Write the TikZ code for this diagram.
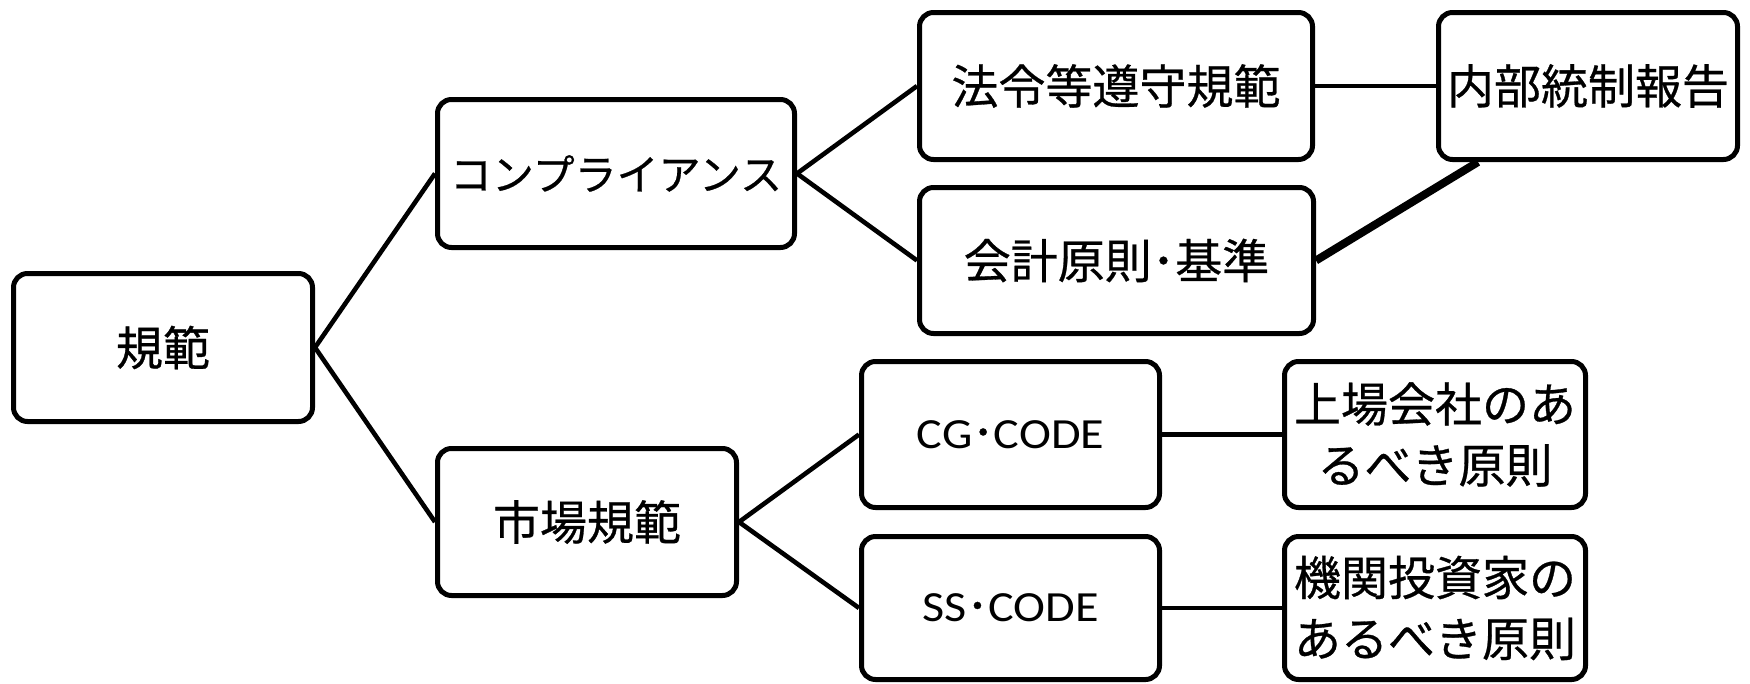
\documentclass[tikz,border=0pt]{standalone}
\usepackage{fontspec}
\setmainfont{Noto Sans CJK JP}[FakeBold=0.6]
\newfontfamily\lat{Carlito}[FakeStretch=1.12]
\begin{document}
\begin{tikzpicture}[x=1pt,y=-1pt,
  box/.style={draw=black, line width=5pt, rounded corners=14pt, fill=white,
    inner sep=0pt, align=center, font=\fontsize{47}{61}\selectfont},
  conn/.style={draw=black, line width=4.6pt},
  thickconn/.style={draw=black, line width=8pt}]
\useasboundingbox (0,0) rectangle (1750,683);
\node[box, minimum width=299pt, minimum height=148pt] (A) at (163,347.5) {規範};
\node[box, minimum width=357pt, minimum height=148pt, font=\fontsize{42}{54}\selectfont] (B) at (616,173.5) {コンプライアンス};
\node[box, minimum width=299pt, minimum height=147pt] (C) at (587,522) {市場規範};
\node[box, minimum width=393pt, minimum height=147pt] (D) at (1116,86) {法令等遵守規範};
\node[box, minimum width=394pt, minimum height=146pt] (E) at (1116.5,260.5) {会計原則･基準};
\node[box, minimum width=299pt, minimum height=147pt] (F) at (1588,86) {内部統制報告};
\node[box, minimum width=298pt, minimum height=146pt, font=\fontsize{43}{54}\selectfont] (G) at (1010.5,434.5) {{\lat CG}･{\lat CODE}};
\node[box, minimum width=298pt, minimum height=143pt, font=\fontsize{43}{54}\selectfont] (H) at (1010.5,608) {{\lat SS}･{\lat CODE}};
\node[box, minimum width=301pt, minimum height=146pt] (I) at (1435,434.5) {上場会社のあ\\るべき原則};
\node[box, minimum width=301pt, minimum height=143pt] (J) at (1435,608) {機関投資家の\\あるべき原則};
\coordinate (Fk) at ([xshift=42pt]F.south west);
\draw[conn] (A.east) -- (B.west);
\draw[conn] (A.east) -- (C.west);
\draw[conn] (B.east) -- (D.west);
\draw[conn] (B.east) -- (E.west);
\draw[conn] (D.east) -- (F.west);
\draw[thickconn] (E.east) -- (Fk);
\draw[conn] (C.east) -- (G.west);
\draw[conn] (C.east) -- (H.west);
\draw[conn] (G.east) -- (I.west);
\draw[conn] (H.east) -- (J.west);
\end{tikzpicture}
\end{document}
